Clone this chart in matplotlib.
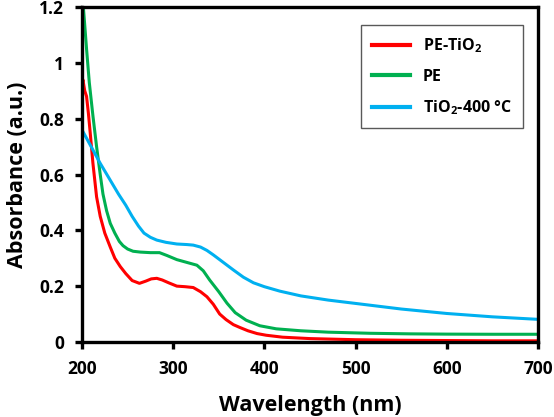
import matplotlib
matplotlib.use("Agg")
import matplotlib.pyplot as plt
import numpy as np

wl_red = [200, 201, 203, 205, 207, 209, 212, 216, 220, 225, 231, 236, 242, 248, 255, 263, 270, 276, 282, 288, 295, 304, 313, 322, 330, 337, 344, 351, 358, 366, 373, 382, 392, 402, 420, 450, 500, 550, 600, 650, 700]
ab_red = [0.92, 0.94, 0.90, 0.88, 0.82, 0.75, 0.64, 0.52, 0.45, 0.39, 0.34, 0.30, 0.27, 0.245, 0.22, 0.21, 0.218, 0.226, 0.228, 0.222, 0.212, 0.20, 0.198, 0.195, 0.18, 0.162, 0.135, 0.10, 0.08, 0.062, 0.052, 0.040, 0.030, 0.024, 0.017, 0.012, 0.008, 0.006, 0.005, 0.004, 0.004]

wl_green = [200, 201.5, 205, 208, 212, 216, 220, 223, 227, 231, 236, 241, 245, 250, 256, 264, 275, 285, 293, 304, 315, 326, 333, 340, 350, 359, 368, 380, 395, 413, 440, 470, 516, 560, 600, 650, 700]
ab_green = [1.21, 1.2, 1.05, 0.93, 0.81, 0.70, 0.60, 0.53, 0.47, 0.425, 0.39, 0.36, 0.345, 0.333, 0.325, 0.322, 0.32, 0.32, 0.31, 0.295, 0.285, 0.275, 0.255, 0.222, 0.18, 0.139, 0.105, 0.078, 0.058, 0.047, 0.040, 0.035, 0.031, 0.029, 0.028, 0.0275, 0.0275]

wl_blue = [200, 210, 220, 230, 240, 248, 255, 262, 268, 275, 282, 292, 304, 315, 322, 330, 337, 344, 355, 366, 377, 388, 400, 417, 440, 470, 500, 550, 600, 650, 700]
ab_blue = [0.76, 0.70, 0.64, 0.585, 0.53, 0.49, 0.45, 0.415, 0.39, 0.375, 0.365, 0.357, 0.351, 0.349, 0.347, 0.34, 0.328, 0.312, 0.285, 0.258, 0.232, 0.212, 0.198, 0.182, 0.165, 0.15, 0.138, 0.118, 0.102, 0.09, 0.081]

labels = ["PE-TiO$_2$", "PE", "TiO$_2$-400 °C"]
colors = ["#ff0000", "#00b050", "#00b0f0"]

plt.rcParams['font.family'] = ['Open Sans', 'DejaVu Sans']
plt.rcParams['font.weight'] = 'bold'
plt.rcParams['mathtext.fontset'] = 'custom'
plt.rcParams['mathtext.rm'] = 'Open Sans:bold'
plt.rcParams['mathtext.it'] = 'Open Sans:bold'
plt.rcParams['mathtext.bf'] = 'Open Sans:bold'

fig = plt.figure(figsize=(5.54, 4.17), dpi=100)
ax = fig.add_axes([0.148, 0.18, 0.823, 0.803])

for wl, ab, lab, c in zip([wl_red, wl_green, wl_blue], [ab_red, ab_green, ab_blue], labels, colors):
    ax.plot(wl, ab, color=c, lw=2.2, label=lab, solid_joinstyle='round')

ax.set_xlim(200, 700)
ax.set_ylim(0, 1.2)
ax.set_xticks([200, 300, 400, 500, 600, 700])
ax.set_yticks([0, 0.2, 0.4, 0.6, 0.8, 1.0, 1.2])
ax.set_yticklabels(["0", "0.2", "0.4", "0.6", "0.8", "1", "1.2"])
for s in ax.spines.values():
    s.set_linewidth(2.4)
ax.tick_params(direction='out', length=5, width=2.4, labelsize=12.5, pad=8)
for t in ax.get_xticklabels() + ax.get_yticklabels():
    t.set_fontweight('bold')
ax.set_xlabel("Wavelength (nm)", fontsize=15.5, fontweight='bold', labelpad=12)
ax.set_ylabel("Absorbance (a.u.)", fontsize=15.5, fontweight='bold', labelpad=8)

leg = ax.legend(loc='upper right', bbox_to_anchor=(0.985, 0.97),
                frameon=True, fancybox=False, edgecolor='#303030', handlelength=2.4,
                labelspacing=0.85, borderpad=0.7, prop={'weight': 'bold', 'size': 11.5})
leg.get_frame().set_linewidth(1.0)
for h in leg.get_lines():
    h.set_linewidth(3)

fig.savefig("out.png", dpi=100)
